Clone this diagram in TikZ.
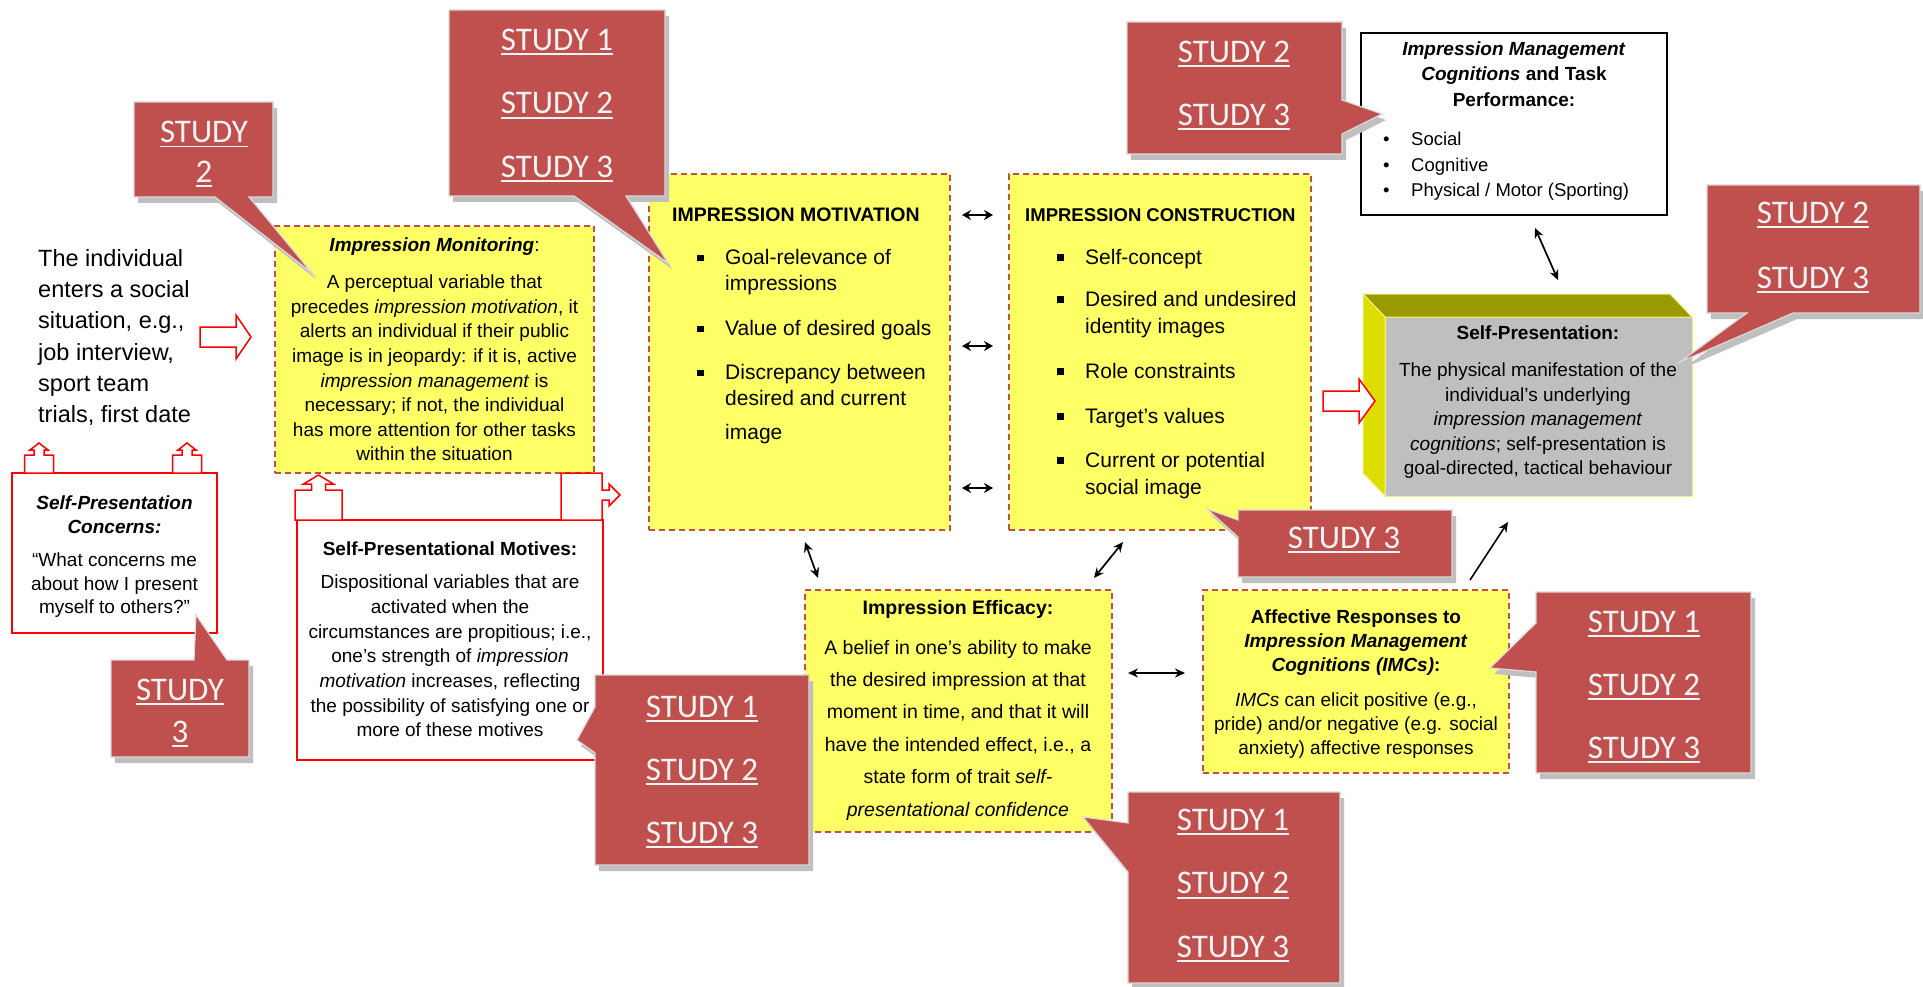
\documentclass[tikz,border=0pt]{standalone}
\usepackage{fontspec}
\setmainfont{Liberation Sans}
\newfontfamily\calib{Carlito}
\usetikzlibrary{arrows.meta,calc}

\definecolor{calred}{HTML}{C0504D}
\definecolor{ybox}{HTML}{FFFF66}
\definecolor{dashred}{HTML}{C0504D}
\definecolor{spgray}{HTML}{BFBFBF}
\definecolor{spolive}{HTML}{999900}
\definecolor{spleft}{HTML}{DDDD00}
\definecolor{spedgecol}{HTML}{F0F080}
\definecolor{studywhite}{HTML}{F4F4F4}

% underlined study label
\newcommand\stu[1]{\vtop{\hbox{#1}\kern3pt\hrule height 1.8pt}}
% square bullet
\newcommand\sqb{\raisebox{3.5pt}{\rule{6.5pt}{6.5pt}}}
% bullet line and continuation line
\newcommand\bl[2]{\hspace*{#1}\makebox[28pt][l]{\sqb}#2}
\newcommand\cl[2]{\hspace*{#1}\hspace*{28pt}#2}
% red study callout with its drop shadow
\newcommand\studycallout[1]{\fill[calshadow,shift={(4,6)}] #1; \filldraw[callout] #1;}

\begin{document}
\begin{tikzpicture}[x=1pt,y=-1pt,
  yellowbox/.style={draw=dashred, dash pattern=on 6pt off 4pt, line width=1.4pt,
    fill=ybox, inner sep=0pt, outer sep=0pt, anchor=north west},
  redbox/.style={draw=red, line width=2pt, fill=white, inner sep=0pt, outer sep=0pt, anchor=north west},
  blackbox/.style={draw=black, line width=1.8pt, fill=white, inner sep=0pt, outer sep=0pt, anchor=north west},
  spfront/.style={fill=spgray, draw=spedgecol, line width=1pt, inner sep=0pt, outer sep=0pt, anchor=north west},
  spedge/.style={draw=spedgecol, line width=1pt},
  body/.style={inner sep=0pt, align=center, font=\fontsize{19}{24.6}\selectfont},
  listtxt/.style={anchor=north west, inner sep=0pt, align=left, font=\fontsize{21}{26}\selectfont},
  studytxt/.style={inner sep=0pt, align=center, text=studywhite},
  hollow/.style={draw=red, fill=white, line width=1.5pt, line join=miter},
  callout/.style={fill=calred, draw=white!85!black, line width=1.2pt},
  calshadow/.style={fill=black!25},
  dbl/.style={{Stealth[length=9pt,width=10pt]}-{Stealth[length=9pt,width=10pt]}, line width=2.4pt},
  dblthin/.style={{Stealth[length=10pt,width=9pt]}-{Stealth[length=10pt,width=9pt]}, line width=1.7pt},
  one/.style={-{Stealth[length=10pt,width=9pt]}, line width=1.6pt}]

\useasboundingbox (0,0) rectangle (1923,987);
\fill[white] (0,0) rectangle (1923,987);

% ---------- boxes ----------
\node[yellowbox, minimum width=319pt, minimum height=247pt] (im) at (275,226) {};
\node[yellowbox, minimum width=301pt, minimum height=356pt] (imot) at (649,174) {};
\node[yellowbox, minimum width=302pt, minimum height=356pt] (icon) at (1009,174) {};
\node[yellowbox, minimum width=307pt, minimum height=242pt] (ie) at (805,590) {};
\node[yellowbox, minimum width=306pt, minimum height=183pt] (ar) at (1203,590) {};
\node[redbox, minimum width=205pt, minimum height=160pt] (spc) at (12,473) {};
\node[redbox, minimum width=306pt, minimum height=240pt] (spm) at (297,520) {};
\node[blackbox, minimum width=306pt, minimum height=182pt] (imc) at (1361,33) {};

% self-presentation block drawn as a cube
\node[spfront, minimum width=307pt, minimum height=179pt] (sp) at (1385,317) {};
\filldraw[spedge, fill=spolive] (sp.north west) -- ++(-22,-23) -- ($(sp.north east)+(-22,-23)$) -- (sp.north east) -- cycle;
\filldraw[spedge, fill=spleft] (sp.north west) -- ++(-22,-23) -- ($(sp.south west)+(-22,-23)$) -- (sp.south west) -- cycle;

% ---------- block arrows ----------
\draw[hollow] (200,327) -- (236,327) -- (236,315) -- (251,337) -- (236,359) -- (236,347) -- (200,347) -- cycle;
\draw[hollow] (1323,391) -- (1359,391) -- (1359,379) -- (1375,401) -- (1359,423) -- (1359,411) -- (1323,411) -- cycle;
% up-arrow callouts on the concerns box
\draw[hollow] (24.5,473) -- (24.5,455) -- (34,455) -- (34,450) -- (30,450) -- (39,443) -- (48,450) -- (44,450) -- (44,455) -- (53.5,455) -- (53.5,473) -- cycle;
\draw[hollow] (172.5,473) -- (172.5,455) -- (182,455) -- (182,450) -- (178,450) -- (187,443) -- (196,450) -- (192,450) -- (192,455) -- (201.5,455) -- (201.5,473) -- cycle;
% up-arrow callout and right-arrow callout on the motives box
\draw[hollow] (295,520) -- (295,490) -- (311.5,490) -- (311.5,484) -- (303.5,484) -- (318.5,475) -- (333.5,484) -- (325.5,484) -- (325.5,490) -- (342,490) -- (342,520) -- cycle;
\draw[hollow] (561,473) -- (602,473) -- (602,490) -- (609,490) -- (609,484) -- (620,495) -- (609,506) -- (609,500) -- (602,500) -- (602,520) -- (561,520) -- cycle;

% ---------- texts ----------
\node[anchor=west, inner sep=0pt, align=left, font=\fontsize{23.5}{31.2}\selectfont] (intro) at (38,337.5)
  {The individual\\enters a social\\situation, e.g.,\\job interview,\\sport team\\trials, first date};

\node[body] (imtxt) at (434.5,349.5) {\textbf{\textit{Impression Monitoring}}:\\[12.4pt]
  A perceptual variable that\\
  precedes \textit{impression motivation}, it\\
  alerts an individual if their public\\
  image is in jeopardy: if it is, active\\
  \textit{impression management} is\\
  necessary; if not, the individual\\
  has more attention for other tasks\\
  within the situation};

\node[body, font=\fontsize{19}{23.5}\selectfont] (spctxt) at (114.5,557)
  {\textbf{\textit{Self-Presentation}}\\\textbf{\textit{Concerns:}}\\[10pt]“What concerns me\\about how I present\\myself to others?”};

\node[body, font=\fontsize{19}{24.7}\selectfont] (spmtxt) at (450,639.5)
  {\textbf{Self-Presentational Motives:}\\[8.3pt]Dispositional variables that are\\activated when the\\circumstances are propitious; i.e.,\\one’s strength of \textit{impression}\\\textit{motivation} increases, reflecting\\the possibility of satisfying one or\\more of these motives};

\node[listtxt] (imottxt) at (672,208) {\textbf{\fontsize{19.5}{26}\selectfont IMPRESSION MOTIVATION}\\[17pt]
  \bl{25pt}{Goal-relevance of}\\
  \cl{25pt}{impressions}\\[19pt]
  \bl{25pt}{Value of desired goals}\\[18pt]
  \bl{25pt}{Discrepancy between}\\
  \cl{25pt}{desired and current}\\[8pt]
  \cl{25pt}{image}};

\node[listtxt] (icontxt) at (1025,208) {\textbf{\fontsize{18.5}{26}\selectfont IMPRESSION CONSTRUCTION}\\[17pt]
  \bl{32pt}{Self-concept}\\[16pt]
  \bl{32pt}{Desired and undesired}\\[1pt]
  \cl{32pt}{identity images}\\[19pt]
  \bl{32pt}{Role constraints}\\[19pt]
  \bl{32pt}{Target’s values}\\[18pt]
  \bl{32pt}{Current or potential}\\[1pt]
  \cl{32pt}{social image}};

\node[body, font=\fontsize{19}{25.5}\selectfont] (imctit) at (1514,74)
  {\textbf{\textit{Impression Management}}\\\textbf{\textit{Cognitions} and Task}\\\textbf{Performance:}};
\node[anchor=north west, inner sep=0pt, align=left, font=\fontsize{18.5}{25.5}\selectfont] (imclist) at (1383,132)
  {\makebox[28pt][l]{•}Social\\\makebox[28pt][l]{•}Cognitive\\\makebox[28pt][l]{•}Physical / Motor (Sporting)};

\node[body, font=\fontsize{19}{24.5}\selectfont] (sptxt) at (1538,402.5)
  {\textbf{Self-Presentation:}\\[12.5pt]The physical manifestation of the\\individual’s underlying\\\textit{impression management}\\\textit{cognitions}; self-presentation is\\goal-directed, tactical behaviour};

\node[body, font=\fontsize{19.5}{32.4}\selectfont] (ietxt) at (958,710)
  {\textbf{Impression Efficacy:}\\[7.6pt]A belief in one’s ability to make\\the desired impression at that\\moment in time, and that it will\\have the intended effect, i.e., a\\state form of trait \textit{self-}\\\textit{presentational confidence}};

\node[body, font=\fontsize{19}{24}\selectfont] (artxt) at (1356,684.5)
  {\textbf{Affective Responses to}\\\textbf{\textit{Impression Management}}\\\textbf{\textit{Cognitions (IMCs)}:}\\[11pt]\textit{IMCs} can elicit positive (e.g.,\\pride) and/or negative (e.g. social\\anxiety) affective responses};

% ---------- connectors ----------
\coordinate (m1a) at (962,215); \coordinate (m1b) at (993,215);
\coordinate (m2a) at (962,346); \coordinate (m2b) at (993,346);
\coordinate (m3a) at (962,488); \coordinate (m3b) at (993,488);
\draw[dbl] (m1a) -- (m1b);
\draw[dbl] (m2a) -- (m2b);
\draw[dbl] (m3a) -- (m3b);
\coordinate (e1a) at (805,542); \coordinate (e1b) at (818,578);
\coordinate (e2a) at (1123,542); \coordinate (e2b) at (1094,578);
\coordinate (e3a) at (1128,673); \coordinate (e3b) at (1185,673);
\coordinate (t1a) at (1535,228); \coordinate (t1b) at (1558,280);
\coordinate (r1a) at (1470,580); \coordinate (r1b) at (1508,522);
\draw[dblthin] (e1a) -- (e1b);
\draw[dblthin] (e2a) -- (e2b);
\draw[dblthin] (e3a) -- (e3b);
\draw[dblthin] (t1a) -- (t1b);
\draw[one] (r1a) -- (r1b);

% ---------- study callouts ----------
\studycallout{(134,102) -- (273,102) -- (273,197) -- (249,197) -- (312,273) -- (215,197) -- (134,197) -- cycle}
\node[studytxt, font=\calib\fontsize{33}{40}\selectfont] (sA) at (204,154) {\stu{STUDY}\\\stu{2}};

\studycallout{(111,660) -- (194,660) -- (196,615) -- (227,660) -- (249,660) -- (249,757) -- (111,757) -- cycle}
\node[studytxt, font=\calib\fontsize{33}{42}\selectfont] (sI) at (180,713) {\stu{STUDY}\\\stu{3}};

\studycallout{(449,10) -- (665,10) -- (665,196) -- (626,196) -- (668,263) -- (574,196) -- (449,196) -- cycle}
\node[studytxt, font=\calib\fontsize{33}{63.5}\selectfont] (sB) at (557,105.5) {\stu{STUDY 1}\\\stu{STUDY 2}\\\stu{STUDY 3}};

\studycallout{(1127,22) -- (1342,22) -- (1342,100) -- (1382,114) -- (1342,134) -- (1342,154) -- (1127,154) -- cycle}
\node[studytxt, font=\calib\fontsize{33}{63}\selectfont] (sC) at (1234,85.5) {\stu{STUDY 2}\\\stu{STUDY 3}};

\studycallout{(1707,185) -- (1920,185) -- (1920,313) -- (1793,313) -- (1680,362) -- (1747,313) -- (1707,313) -- cycle}
\node[studytxt, font=\calib\fontsize{33}{65}\selectfont] (sE) at (1813,247.5) {\stu{STUDY 2}\\\stu{STUDY 3}};

\studycallout{(1238,510) -- (1452,510) -- (1452,577) -- (1238,577) -- (1238,537) -- (1207,509) -- (1238,520) -- cycle}
\node[studytxt, font=\calib\fontsize{33}{40}\selectfont] (sD) at (1344,540) {\stu{STUDY 3}};

\studycallout{(1536,592) -- (1751,592) -- (1751,773) -- (1536,773) -- (1536,672) -- (1490,668) -- (1536,623) -- cycle}
\node[studytxt, font=\calib\fontsize{33}{63}\selectfont] (sH) at (1644,687) {\stu{STUDY 1}\\\stu{STUDY 2}\\\stu{STUDY 3}};

\studycallout{(1128,792) -- (1340,792) -- (1340,983) -- (1128,983) -- (1128,872) -- (1083,817) -- (1128,823) -- cycle}
\node[studytxt, font=\calib\fontsize{33}{63.5}\selectfont] (sF) at (1233,885.5) {\stu{STUDY 1}\\\stu{STUDY 2}\\\stu{STUDY 3}};

\studycallout{(595,675) -- (809,675) -- (809,865) -- (595,865) -- (595,753) -- (577,740) -- (595,707) -- cycle}
\node[studytxt, font=\calib\fontsize{33}{63}\selectfont] (sG) at (702,772) {\stu{STUDY 1}\\\stu{STUDY 2}\\\stu{STUDY 3}};

\end{tikzpicture}
\end{document}
